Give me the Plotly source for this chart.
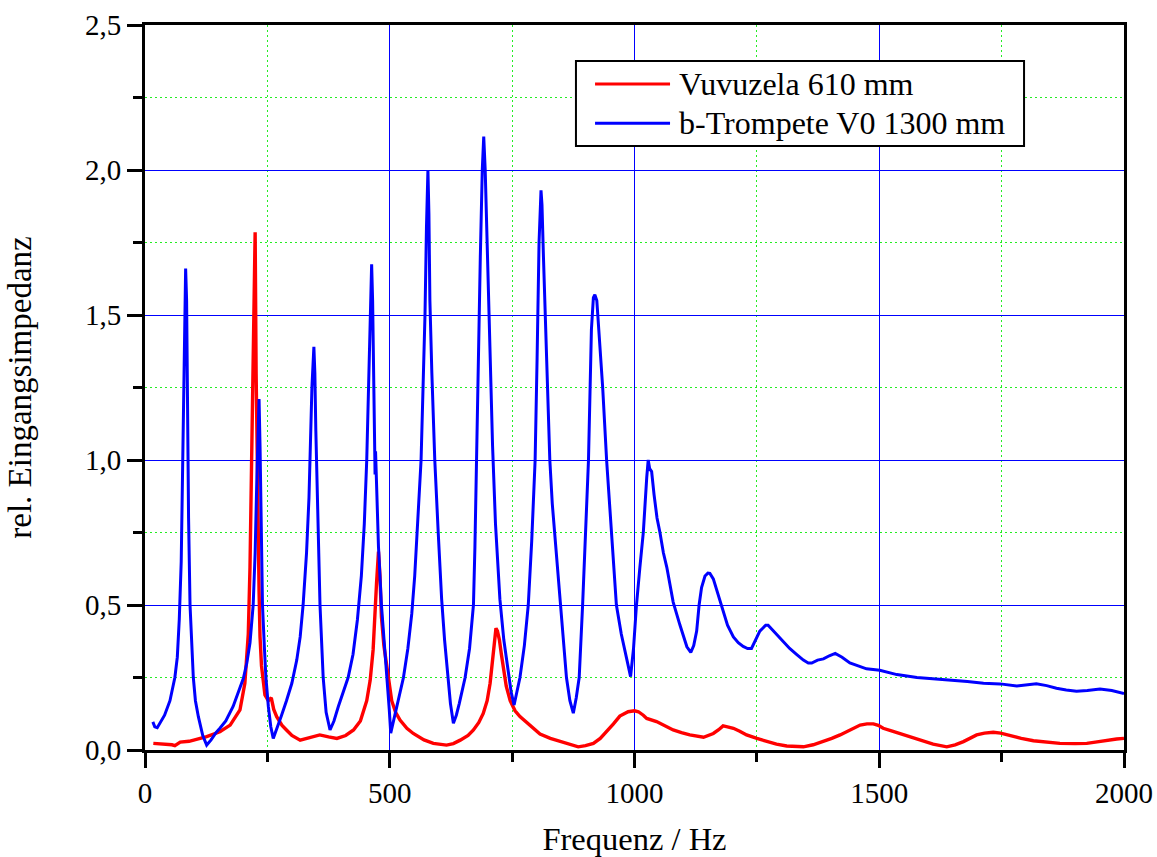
import plotly.graph_objects as go

# ---- data ----
trumpet_freq = [16, 20, 25, 30, 40, 51, 61, 66, 70, 74, 77, 80, 83, 85, 87, 89, 92, 95, 98.7, 103, 109, 118, 126,
                135, 145, 153, 165, 180, 191, 201, 208, 214.5, 221, 225, 228, 231, 233, 235, 237, 240, 244, 247, 252, 257, 262,
                270, 279, 289, 300, 310, 317, 323, 330, 335, 338, 341, 345, 347, 349, 352, 357.5, 364, 370, 378,
                386, 395, 405, 415, 425, 434, 442, 448, 453, 457, 460, 463, 465, 467, 469, 470, 471, 473, 477, 483, 489, 495, 499, 502,
                508, 515, 521, 528, 537, 545, 551, 558, 564, 568, 572, 575, 578, 580, 582, 586, 592, 599, 606, 612, 618, 624, 630,
                636, 642, 648, 654, 663, 671, 674, 677, 681, 685, 689, 692, 695, 698, 701, 705, 710, 716, 725, 733, 742, 748, 754,
                760, 766, 775, 783, 790, 797, 801, 805, 809, 811, 814, 818, 822, 827, 832, 838, 848, 855, 861, 868, 875,
                881, 887, 894, 900, 906, 912, 916, 919, 923, 927, 935, 943, 953, 963, 973, 983, 992,
                998, 1004, 1011, 1018, 1025, 1028, 1031, 1035, 1040, 1046, 1052, 1059, 1066, 1079, 1093, 1107, 1115,
                1121, 1127, 1132, 1137, 1144, 1150, 1154, 1161, 1170, 1178, 1190, 1202, 1212, 1222, 1231, 1239, 1245, 1250, 1256, 1262, 1268, 1273, 1281, 1290, 1303, 1317, 1331, 1345, 1355, 1362,
                1374, 1386, 1398, 1410, 1424, 1440, 1457, 1474, 1501, 1536, 1577, 1617, 1645, 1680, 1713, 1747, 1781, 1800, 1821, 1842, 1862,
                1882, 1903, 1925, 1951, 1975, 2000]
trumpet_imp = [0.097, 0.08, 0.077, 0.09, 0.12, 0.17, 0.25, 0.32, 0.45, 0.65, 0.95, 1.35, 1.66, 1.55, 1.15, 0.8, 0.5, 0.36, 0.25, 0.17, 0.115, 0.05, 0.017,
               0.035, 0.06, 0.075, 0.1, 0.15, 0.2, 0.247, 0.3, 0.37, 0.5, 0.68, 0.9, 1.1, 1.21, 1.05, 0.8, 0.5, 0.35, 0.25, 0.15, 0.08, 0.04,
               0.075, 0.12, 0.17, 0.23, 0.31, 0.39, 0.5, 0.68, 0.87, 1.05, 1.25, 1.39, 1.3, 1.1, 0.85, 0.5, 0.25, 0.13, 0.069,
               0.1, 0.15, 0.2, 0.25, 0.33, 0.45, 0.6, 0.78, 1.0, 1.25, 1.5, 1.675, 1.55, 1.3, 1.08, 0.95, 1.03, 0.9, 0.7, 0.5, 0.37, 0.25, 0.14, 0.058,
               0.1, 0.15, 0.2, 0.25, 0.35, 0.47, 0.6, 0.8, 1.0, 1.25, 1.5, 1.8, 2.0, 1.85, 1.55, 1.3, 1.0, 0.75, 0.52, 0.38, 0.26, 0.16, 0.092,
               0.12, 0.16, 0.2, 0.25, 0.35, 0.5, 0.7, 1.0, 1.35, 1.7, 2.0, 2.115, 2.0, 1.8, 1.55, 1.3, 1.05, 0.78, 0.52, 0.38, 0.26, 0.2, 0.155,
               0.2, 0.25, 0.36, 0.5, 0.72, 1.0, 1.35, 1.75, 1.93, 1.88, 1.7, 1.5, 1.3, 1.0, 0.85, 0.72, 0.5, 0.37, 0.25, 0.17, 0.127,
               0.18, 0.25, 0.5, 0.75, 1.0, 1.45, 1.56, 1.57, 1.55, 1.45, 1.25, 1.0, 0.75, 0.5, 0.4, 0.32, 0.253,
               0.35, 0.5, 0.63, 0.75, 0.94, 1.0, 0.97, 0.96, 0.88, 0.8, 0.75, 0.68, 0.63, 0.51, 0.43, 0.356, 0.337,
               0.36, 0.41, 0.5, 0.56, 0.6, 0.61, 0.609, 0.59, 0.54, 0.49, 0.43, 0.39, 0.37, 0.357, 0.35, 0.35, 0.37, 0.39, 0.41, 0.42, 0.43, 0.43, 0.415, 0.40, 0.375, 0.35, 0.33, 0.31, 0.30, 0.30,
               0.31, 0.314, 0.325, 0.333, 0.32, 0.30, 0.29, 0.28, 0.275, 0.26, 0.25, 0.245, 0.241, 0.236, 0.23, 0.228, 0.221, 0.225, 0.228, 0.222, 0.213,
               0.207, 0.203, 0.205, 0.21, 0.205, 0.195]

vuvuzela_freq = [17, 30, 45, 55, 61, 72, 90, 110, 126, 153, 174, 194, 204, 211, 214.5, 218, 221, 223, 225,
                 227, 229, 231, 233, 235, 238, 245, 252, 258, 263, 269, 280, 289, 300, 317, 330, 345, 357,
                 375, 392, 410, 426, 440, 453, 460, 466, 473, 477, 480, 483, 488, 494, 504, 512, 521, 535,
                 548, 570, 589, 616, 630, 644, 660, 671, 682, 691, 699, 705, 710, 713, 717, 720, 724, 728,
                 732, 738, 746, 756, 766, 787, 807, 828, 848, 865, 885, 900, 916, 930, 943, 957, 970, 987,
                 1000, 1008, 1018, 1025, 1045, 1062, 1079, 1096, 1113, 1141, 1161, 1172, 1181, 1190, 1202,
                 1215, 1229, 1250, 1270, 1290, 1311, 1345, 1365, 1386, 1403, 1420, 1447, 1461, 1475, 1488,
                 1498, 1508, 1525, 1542, 1562, 1583, 1610, 1638, 1655, 1672, 1685, 1699, 1715, 1733, 1748,
                 1760, 1790, 1815, 1840, 1869, 1900, 1924, 1945, 1965, 1985, 2000]
vuvuzela_imp = [0.023, 0.022, 0.02, 0.018, 0.015, 0.027, 0.03, 0.04, 0.046, 0.063, 0.086, 0.138, 0.23, 0.40, 0.63, 1.02, 1.4, 1.735, 1.785,
                1.3, 0.95, 0.75, 0.55, 0.39, 0.29, 0.19, 0.17, 0.18, 0.14, 0.115, 0.085, 0.069, 0.05, 0.034, 0.04, 0.048, 0.052,
                0.045, 0.04, 0.05, 0.069, 0.1, 0.17, 0.24, 0.345, 0.575, 0.684, 0.6, 0.46, 0.36, 0.287, 0.17, 0.13, 0.103, 0.075,
                0.057, 0.035, 0.023, 0.017, 0.022, 0.034, 0.05, 0.069, 0.095, 0.126, 0.17, 0.23, 0.31, 0.368, 0.42, 0.41, 0.38, 0.33,
                0.287, 0.22, 0.17, 0.135, 0.115, 0.086, 0.055, 0.04, 0.029, 0.02, 0.011, 0.015, 0.023, 0.04, 0.063, 0.09, 0.117, 0.132,
                0.135, 0.132, 0.12, 0.109, 0.098, 0.085, 0.069, 0.06, 0.052, 0.044, 0.057, 0.07, 0.083, 0.08, 0.075,
                0.065, 0.052, 0.04, 0.029, 0.02, 0.014, 0.011, 0.018, 0.029, 0.04, 0.052, 0.075, 0.086, 0.09, 0.09,
                0.085, 0.075, 0.066, 0.057, 0.045, 0.034, 0.02, 0.011, 0.018, 0.029, 0.04, 0.052, 0.058, 0.061, 0.058,
                0.052, 0.04, 0.032, 0.027, 0.023, 0.022, 0.023, 0.028, 0.034, 0.038, 0.04]

x_tickvals = [0, 500, 1000, 1500, 2000]
x_ticktext = ["0", "500", "1000", "1500", "2000"]
y_tickvals = [0.0, 0.5, 1.0, 1.5, 2.0, 2.5]
y_ticktext = ["0,0", "0,5", "1,0", "1,5", "2,0", "2,5"]

series_names = ["Vuvuzela 610 mm", "b-Trompete V0 1300 mm"]
series_colors = ["#ff0000", "#0000ff"]

FONT = "Liberation Serif, Times New Roman, serif"

fig = go.Figure()
fig.add_trace(go.Scatter(x=vuvuzela_freq, y=vuvuzela_imp, mode="lines", name=series_names[0],
                         line=dict(color=series_colors[0], width=3.4)))
fig.add_trace(go.Scatter(x=trumpet_freq, y=trumpet_imp, mode="lines", name=series_names[1],
                         line=dict(color=series_colors[1], width=3.0)))

axis_common = dict(
    showline=True, linecolor="black", linewidth=3, mirror=True,
    ticks="outside", ticklen=15, tickwidth=3, tickcolor="black",
    showgrid=True, gridcolor="#0000ff", gridwidth=1,
    zeroline=False,
    tickfont=dict(family=FONT, size=29, color="black"),
)
minor_common = dict(ticks="outside", ticklen=9, tickwidth=2.5, tickcolor="black",
                    showgrid=True, gridcolor="#22ee22", griddash="2px,3px", gridwidth=1.3)

fig.update_xaxes(
    range=[0, 2000], tickmode="array", tickvals=x_tickvals, ticktext=x_ticktext,
    minor=dict(dtick=250, tick0=0, **minor_common),
    title=dict(text="Frequenz / Hz", font=dict(family=FONT, size=32.5, color="black"), standoff=27),
    **axis_common,
)
fig.update_yaxes(
    range=[0, 2.5], tickmode="array", tickvals=y_tickvals, ticktext=y_ticktext,
    minor=dict(dtick=0.25, tick0=0, **minor_common),
    title=dict(text="rel. Eingangsimpedanz", font=dict(family=FONT, size=33, color="black"), standoff=44),
    **axis_common,
)

# ---- legend drawn as a framed box (paper coordinates) ----
L_X0, L_X1, L_Y0, L_Y1 = 0.4402, 0.8979, 0.8331, 0.9503
ROW_Y = [0.9185, 0.8645]
fig.add_shape(type="rect", xref="paper", yref="paper", x0=L_X0, x1=L_X1, y0=L_Y0, y1=L_Y1,
              line=dict(color="black", width=2), fillcolor="white", layer="above")
for name, color, ry in zip(series_names, series_colors, ROW_Y):
    fig.add_shape(type="line", xref="paper", yref="paper", x0=0.4597, x1=0.5363, y0=ry, y1=ry,
                  line=dict(color=color, width=3), layer="above")
    fig.add_annotation(xref="paper", yref="paper", x=0.5434, y=ry, xanchor="left", yanchor="middle",
                       text=name, showarrow=False,
                       font=dict(family=FONT, size=32, color="black"))

fig.update_layout(
    width=1157, height=857,
    margin=dict(l=145, r=33, t=25, b=107, autoexpand=False),
    paper_bgcolor="white", plot_bgcolor="white",
    showlegend=False,
    font=dict(family=FONT),
)

fig.write_html("out.html")
